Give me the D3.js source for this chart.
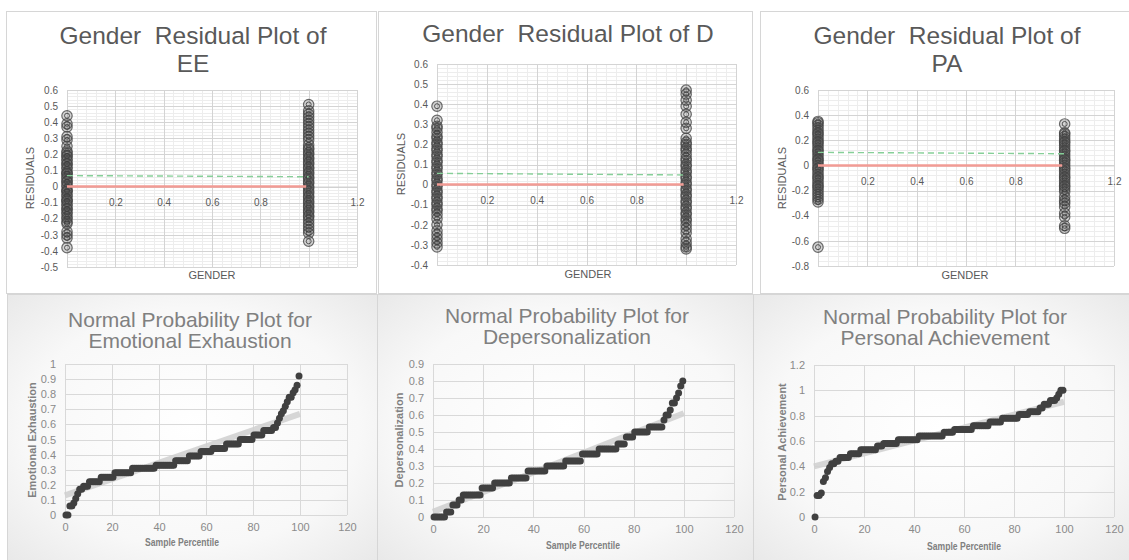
<!DOCTYPE html>
<html><head><meta charset="utf-8">
<script src="https://cdn.jsdelivr.net/npm/d3@7"></script>
<style>html,body{margin:0;padding:0;background:#fff;}svg{display:block;font-family:"Liberation Sans",Arial,sans-serif;}</style>
</head><body>
<svg id="c" width="1129" height="560"></svg>
<script>
// ---------- DATA ----------
// Residuals vs gender (group 0 = x 0, group 1 = x 1)
const resEE0 = [0.44,0.39,0.37,0.31,0.29,0.25,0.22,0.21,0.19,0.19,0.17,0.16,0.14,0.14,0.12,0.11,0.09,0.08,0.08,0.06,0.05,0.03,0.03,0.01,0,-0.02,-0.03,-0.03,-0.05,-0.06,-0.08,-0.09,-0.09,-0.11,-0.12,-0.14,-0.14,-0.16,-0.17,-0.19,-0.2,-0.22,-0.23,-0.28,-0.3,-0.32,-0.38];
const resEE1 = [0.51,0.47,0.45,0.43,0.41,0.39,0.37,0.35,0.33,0.31,0.29,0.26,0.24,0.23,0.21,0.2,0.18,0.17,0.15,0.14,0.12,0.11,0.09,0.08,0.06,0.05,0.03,0.02,0,-0.01,-0.03,-0.04,-0.06,-0.07,-0.09,-0.1,-0.12,-0.13,-0.15,-0.16,-0.18,-0.19,-0.21,-0.23,-0.25,-0.27,-0.29,-0.34];
const resD0 = [0.39,0.32,0.29,0.28,0.26,0.24,0.23,0.21,0.2,0.18,0.17,0.15,0.14,0.12,0.11,0.09,0.08,0.06,0.05,0.03,0.02,0,-0.01,-0.03,-0.04,-0.06,-0.07,-0.09,-0.1,-0.12,-0.13,-0.15,-0.17,-0.2,-0.23,-0.25,-0.27,-0.29,-0.31];
const resD1 = [0.47,0.45,0.42,0.39,0.35,0.31,0.28,0.23,0.21,0.2,0.18,0.17,0.15,0.13,0.12,0.1,0.09,0.07,0.06,0.04,0.03,0.01,0,-0.02,-0.03,-0.05,-0.06,-0.08,-0.09,-0.11,-0.12,-0.14,-0.15,-0.17,-0.18,-0.2,-0.22,-0.24,-0.27,-0.29,-0.31,-0.32];
const resPA0 = [0.35,0.34,0.32,0.3,0.28,0.26,0.25,0.23,0.21,0.19,0.18,0.16,0.14,0.12,0.11,0.09,0.07,0.05,0.04,0.02,0,-0.02,-0.03,-0.05,-0.07,-0.09,-0.1,-0.12,-0.14,-0.16,-0.17,-0.19,-0.21,-0.23,-0.25,-0.27,-0.29,-0.65];
const resPA1 = [0.33,0.26,0.25,0.23,0.21,0.19,0.18,0.16,0.14,0.12,0.11,0.09,0.07,0.05,0.04,0.02,0,-0.02,-0.03,-0.05,-0.07,-0.09,-0.1,-0.12,-0.14,-0.16,-0.17,-0.19,-0.21,-0.25,-0.28,-0.3,-0.33,-0.38,-0.41,-0.48,-0.5];
// dashed green line values at x=0 and x=1
const meanEE = [0.068, 0.061];
const meanD  = [0.056, 0.048];
const meanPA = [0.104, 0.093];
// tick labels
const residXTicks = [0.2, 0.4, 0.6, 0.8, 1.2];
const eeResYTicks = [0.6,0.5,0.4,0.3,0.2,0.1,0,-0.1,-0.2,-0.3,-0.4,-0.5];
const dResYTicks  = [0.6,0.5,0.4,0.3,0.2,0.1,0,-0.1,-0.2,-0.3,-0.4];
const paResYTicks = [0.6,0.4,0.2,0,-0.2,-0.4,-0.6,-0.8];

// Normal probability plots: sorted sample values
const normEE = [0,0,0.06,0.06,0.08,0.11,0.14,0.17,0.17,0.19,0.19,0.19,
 0.22,0.22,0.22,0.22,0.22,0.22,
 0.25,0.25,0.25,0.25,0.25,0.25,0.25,
 0.28,0.28,0.28,0.28,0.28,0.28,0.28,0.28,0.28,
 0.31,0.31,0.31,0.31,0.31,0.31,0.31,0.31,0.31,0.31,0.31,0.31,
 0.33,0.33,0.33,0.33,0.33,0.33,0.33,0.33,0.33,0.33,
 0.36,0.36,0.36,0.36,0.36,0.36,0.36,
 0.39,0.39,0.39,0.39,0.39,0.39,
 0.42,0.42,0.42,0.42,0.42,0.42,
 0.44,0.44,0.44,0.44,0.44,0.44,0.44,
 0.47,0.47,0.47,0.47,0.47,0.47,0.47,
 0.5,0.5,0.5,0.5,0.5,0.5,0.5,
 0.53,0.53,0.53,0.53,0.53,
 0.56,0.56,0.56,0.56,0.56,
 0.58,0.58,0.61,0.64,0.67,0.69,0.72,0.75,0.78,0.78,0.81,0.83,0.86,0.92];
const normD = [0,0,0,0,0,0,0.03,0.03,0.03,0.07,0.07,0.07,0.1,0.1,
 0.13,0.13,0.13,0.13,0.13,0.13,0.13,0.13,0.13,
 0.17,0.17,0.17,0.17,0.17,0.17,
 0.2,0.2,0.2,0.2,0.2,0.2,0.2,0.2,
 0.23,0.23,0.23,0.23,0.23,0.23,0.23,0.23,
 0.27,0.27,0.27,0.27,0.27,0.27,0.27,0.27,0.27,
 0.3,0.3,0.3,0.3,0.3,0.3,0.3,0.3,0.3,
 0.33,0.33,0.33,0.33,0.33,0.33,0.33,0.33,
 0.37,0.37,0.37,0.37,0.37,0.37,0.37,0.37,
 0.4,0.4,0.4,0.4,0.4,0.4,0.4,0.4,0.4,
 0.43,0.43,0.43,0.43,0.47,0.47,0.47,0.47,
 0.5,0.5,0.5,0.5,0.5,0.5,0.5,
 0.53,0.53,0.53,0.53,0.53,0.53,0.53,
 0.57,0.6,0.6,0.63,0.67,0.67,0.7,0.73,0.77,0.8];
const normPA = [0,0.17,0.17,0.19,0.28,0.31,0.36,0.39,0.42,0.42,0.44,0.44,
 0.47,0.47,0.47,0.47,0.47,
 0.5,0.5,0.5,0.5,0.5,
 0.53,0.53,0.53,0.53,0.53,0.53,0.53,0.53,
 0.56,0.56,0.56,
 0.58,0.58,0.58,0.58,0.58,0.58,0.58,
 0.61,0.61,0.61,0.61,0.61,0.61,0.61,0.61,0.61,0.61,
 0.64,0.64,0.64,0.64,0.64,0.64,0.64,0.64,0.64,0.64,0.64,0.64,
 0.67,0.67,0.67,0.67,0.67,
 0.69,0.69,0.69,0.69,0.69,0.69,0.69,0.69,0.69,
 0.72,0.72,0.72,0.72,0.72,0.72,0.72,0.72,
 0.75,0.75,0.75,0.75,0.75,0.75,
 0.78,0.78,0.78,0.78,0.78,0.78,0.78,0.78,
 0.81,0.81,0.81,0.81,0.81,
 0.83,0.83,0.83,0.83,0.83,
 0.86,0.86,0.89,0.89,0.89,0.92,0.92,0.92,0.94,0.97,1,1];
// trend line values at percentile 0 and 100
const trendEE = [0.13, 0.67];
const trendD  = [0.03, 0.61];
const trendPA = [0.40, 0.91];
const normXTicks = [0,20,40,60,80,100,120];
const eeNormYTicks = [0,0.1,0.2,0.3,0.4,0.5,0.6,0.7,0.8,0.9,1];
const dNormYTicks  = [0,0.1,0.2,0.3,0.4,0.5,0.6,0.7,0.8,0.9];
const paNormYTicks = [0,0.2,0.4,0.6,0.8,1,1.2];

// ---------- DRAW ----------
const svg = d3.select('#c');
const defs = svg.append('defs');
const rg = defs.append('radialGradient').attr('id','bg').attr('cx','50%').attr('cy','50%').attr('r','75%');
rg.append('stop').attr('offset','0%').attr('stop-color','#ffffff');
rg.append('stop').attr('offset','60%').attr('stop-color','#f8f8f8');
rg.append('stop').attr('offset','100%').attr('stop-color','#e6e6e6');

svg.append('rect').attr('width',1129).attr('height',560).attr('fill','#fff');

// panels
[[6,11,370,282],[378,11,374,282],[760,11,369,282]].forEach(p=>{
  svg.append('rect').attr('x',p[0]+0.5).attr('y',p[1]+0.5).attr('width',p[2]).attr('height',p[3])
    .attr('fill','#fff').attr('stroke','#d6d6d6');
});
[[7,294,370,266],[377,294,376,266],[753,294,376,266]].forEach(p=>{
  svg.append('rect').attr('x',p[0]+0.5).attr('y',p[1]+0.5).attr('width',p[2]).attr('height',p[3])
    .attr('fill','url(#bg)').attr('stroke','#d6d6d6');
});

function fmt(d){ return String(d); }

function residualPlot(o){
  const g = svg.append('g');
  const x = d3.scaleLinear().domain([0,1.2]).range([o.left,o.right]);
  const y = d3.scaleLinear().domain(o.yDomain).range([o.bottom,o.top]);
  const [y0,y1] = o.yDomain;
  // minor grid
  const minorX = d3.range(0,1.2001,0.04);
  const minorY = d3.range(y0,y1+1e-9,o.minor);
  g.selectAll('.mx').data(minorX).join('line')
    .attr('x1',d=>Math.round(x(d))+0.5).attr('x2',d=>Math.round(x(d))+0.5)
    .attr('y1',o.top).attr('y2',o.bottom).attr('stroke','#ededed');
  g.selectAll('.my').data(minorY).join('line')
    .attr('y1',d=>Math.round(y(d))+0.5).attr('y2',d=>Math.round(y(d))+0.5)
    .attr('x1',o.left).attr('x2',o.right).attr('stroke','#ededed');
  // major grid
  g.selectAll('.Mx').data([0,0.2,0.4,0.6,0.8,1,1.2]).join('line')
    .attr('x1',d=>Math.round(x(d))+0.5).attr('x2',d=>Math.round(x(d))+0.5)
    .attr('y1',o.top).attr('y2',o.bottom).attr('stroke','#d4d4d4');
  g.selectAll('.My').data(o.yTicks).join('line')
    .attr('y1',d=>Math.round(y(d))+0.5).attr('y2',d=>Math.round(y(d))+0.5)
    .attr('x1',o.left).attr('x2',o.right).attr('stroke','#d4d4d4');
  // y axis labels
  const ya = d3.axisLeft(y).tickValues(o.yTicks).tickSize(0).tickPadding(9).tickFormat(fmt);
  const yg = g.append('g').attr('transform',`translate(${o.left},0)`).call(ya);
  yg.select('.domain').remove();
  yg.selectAll('text').attr('font-size',10).attr('fill','#595959').attr('font-family','Liberation Sans, Arial');
  // x axis labels at y=0
  const xa = d3.axisBottom(x).tickValues(residXTicks).tickSize(0).tickPadding(12).tickFormat(fmt);
  const xg = g.append('g').attr('transform',`translate(0,${y(0)})`).call(xa);
  xg.select('.domain').attr('stroke','#cfcfcf');
  xg.selectAll('text').attr('font-size',10).attr('fill','#595959').attr('font-family','Liberation Sans, Arial');
  // points
  const pts = o.g0.map(v=>[0,v]).concat(o.g1.map(v=>[1,v]));
  const pg = g.append('g');
  pts.forEach(p=>{
    pg.append('circle').attr('cx',x(p[0])).attr('cy',y(p[1])).attr('r',5.2)
      .attr('fill','#666').attr('fill-opacity',0.28)
      .attr('stroke','#444').attr('stroke-opacity',0.78).attr('stroke-width',1.2);
    pg.append('circle').attr('cx',x(p[0])).attr('cy',y(p[1])).attr('r',2.5)
      .attr('fill','none').attr('stroke','#333').attr('stroke-opacity',0.78).attr('stroke-width',1);
  });
  // zero line (red) and dashed green line
  g.append('line').attr('x1',x(0)).attr('x2',x(0.99)).attr('y1',y(0)).attr('y2',y(0))
    .attr('stroke','#f29b94').attr('stroke-width',2.5);
  g.append('line').attr('x1',x(0)).attr('x2',x(1)).attr('y1',y(o.mean[0])).attr('y2',y(o.mean[1]))
    .attr('stroke','#86cf98').attr('stroke-width',1.4).attr('stroke-dasharray','6,4');
  // titles
  const t = g.append('text').attr('text-anchor','middle').attr('fill','#595959').attr('font-size',24.5)
    .attr('style','white-space:pre').attr('xml:space','preserve');
  o.title.forEach((s,i)=>t.append('tspan').attr('x',o.tx).attr('y',o.ty+i*28).text(s));
  g.append('text').attr('transform',`translate(${o.ylx},${o.yly}) rotate(-90)`).attr('text-anchor','middle')
    .attr('font-size',11).attr('fill','#595959').text('RESIDUALS');
  g.append('text').attr('x',o.xlx).attr('y',o.xly).attr('text-anchor','middle')
    .attr('font-size',11).attr('fill','#595959').text('GENDER');
}

residualPlot({left:67,right:357,top:90,bottom:267,yDomain:[-0.5,0.6],minor:0.02,yTicks:eeResYTicks,
  g0:resEE0,g1:resEE1,mean:meanEE,title:['Gender  Residual Plot of','EE'],tx:193,ty:44,
  ylx:34,yly:178,xlx:212,xly:279});
residualPlot({left:437,right:736,top:64,bottom:265,yDomain:[-0.4,0.6],minor:0.02,yTicks:dResYTicks,
  g0:resD0,g1:resD1,mean:meanD,title:['Gender  Residual Plot of D'],tx:568,ty:42,
  ylx:405,yly:164,xlx:588,xly:278});
residualPlot({left:818,right:1114,top:90,bottom:266,yDomain:[-0.8,0.6],minor:0.04,yTicks:paResYTicks,
  g0:resPA0,g1:resPA1,mean:meanPA,title:['Gender  Residual Plot of','PA'],tx:947,ty:44,
  ylx:786,yly:178,xlx:965,xly:279});

function normalPlot(o){
  const g = svg.append('g');
  const x = d3.scaleLinear().domain([0,120]).range([o.left,o.right]);
  const y = d3.scaleLinear().domain([0,o.ymax]).range([o.bottom,o.top]);
  g.selectAll('.gx').data(normXTicks).join('line')
    .attr('x1',d=>Math.round(x(d))+0.5).attr('x2',d=>Math.round(x(d))+0.5)
    .attr('y1',o.top).attr('y2',o.bottom).attr('stroke','#d9d9d9');
  g.selectAll('.gy').data(o.yTicks).join('line')
    .attr('y1',d=>Math.round(y(d))+0.5).attr('y2',d=>Math.round(y(d))+0.5)
    .attr('x1',o.left).attr('x2',o.right).attr('stroke','#d9d9d9');
  const ya = d3.axisLeft(y).tickValues(o.yTicks).tickSize(0).tickPadding(9).tickFormat(fmt);
  const yg = g.append('g').attr('transform',`translate(${o.left},0)`).call(ya);
  yg.select('.domain').remove();
  yg.selectAll('text').attr('font-size',11).attr('fill','#8a8a8a').attr('font-family','Liberation Sans, Arial');
  const xa = d3.axisBottom(x).tickValues(normXTicks).tickSize(0).tickPadding(8).tickFormat(fmt);
  const xg = g.append('g').attr('transform',`translate(0,${o.bottom})`).call(xa);
  xg.select('.domain').remove();
  xg.selectAll('text').attr('font-size',11).attr('fill','#8a8a8a').attr('font-family','Liberation Sans, Arial');
  // trend line
  g.append('line').attr('x1',x(0)).attr('x2',x(100)).attr('y1',y(o.trend[0])).attr('y2',y(o.trend[1]))
    .attr('stroke','#cfcfcf').attr('stroke-width',6).attr('stroke-opacity',0.85);
  // points
  const n = o.values.length;
  g.selectAll('.pt').data(o.values).join('circle')
    .attr('cx',(d,i)=>x((i+0.5)/n*100)).attr('cy',d=>y(d)).attr('r',3.5).attr('fill','#404040');
  const t = g.append('text').attr('text-anchor','middle').attr('fill','#808080').attr('font-size',21);
  o.title.forEach((s,i)=>t.append('tspan').attr('x',o.tx).attr('y',o.ty+i*21).text(s));
  g.append('text').attr('transform',`translate(${o.ylx},${o.yly}) rotate(-90)`).attr('text-anchor','middle')
    .attr('font-size',11).attr('font-weight','bold').attr('fill','#808080').text(o.ylabel);
  g.append('text').attr('x',o.xlx).attr('y',o.xly).attr('text-anchor','middle')
    .attr('font-size',11).attr('font-weight','bold').attr('fill','#808080')
    .attr('textLength',74).attr('lengthAdjust','spacingAndGlyphs').text('Sample Percentile');
}

normalPlot({left:65,right:347,top:364,bottom:515,ymax:1,yTicks:eeNormYTicks,values:normEE,trend:trendEE,
  title:['Normal Probability Plot for','Emotional Exhaustion'],tx:190,ty:327,
  ylabel:'Emotional Exhaustion',ylx:36,yly:440,xlx:182,xly:546});
normalPlot({left:433,right:734,top:364,bottom:517,ymax:0.9,yTicks:dNormYTicks,values:normD,trend:trendD,
  title:['Normal Probability Plot for','Depersonalization'],tx:567,ty:323,
  ylabel:'Depersonalization',ylx:403,yly:440,xlx:583,xly:549});
normalPlot({left:814,right:1114,top:365,bottom:517,ymax:1.2,yTicks:paNormYTicks,values:normPA,trend:trendPA,
  title:['Normal Probability Plot for','Personal Achievement'],tx:945,ty:324,
  ylabel:'Personal Achievement',ylx:786,yly:442,xlx:964,xly:550});
</script>
</body></html>
